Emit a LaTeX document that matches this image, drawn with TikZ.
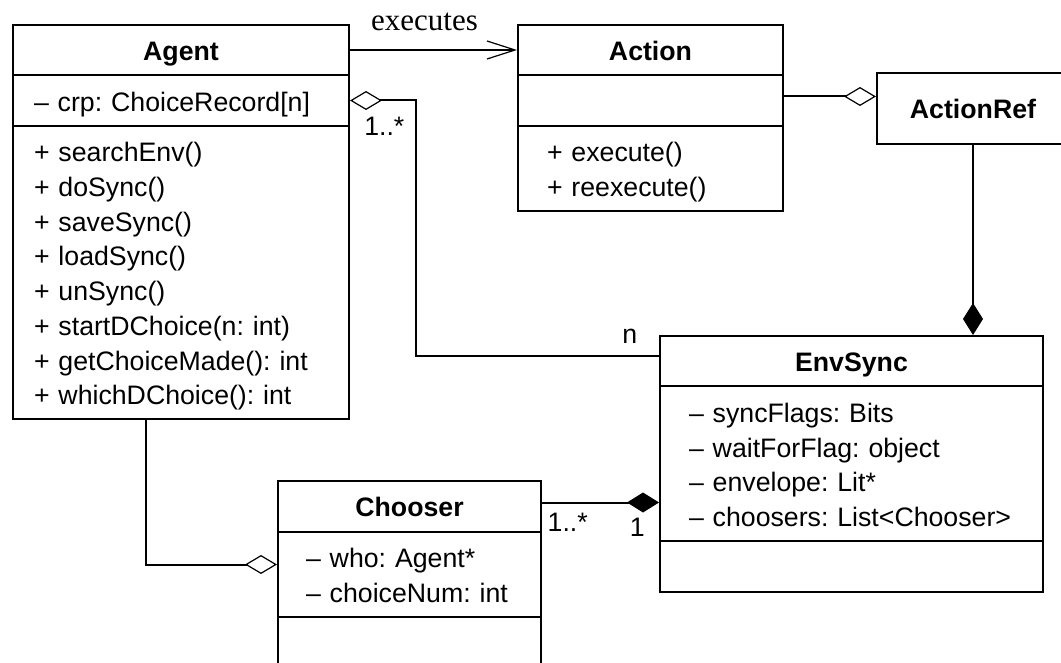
\documentclass[tikz,border=0pt]{standalone}
\usepackage{fontspec}
\setmainfont{Liberation Sans}
\newfontfamily\serifrm{Liberation Serif}
\usetikzlibrary{shapes.multipart, arrows.meta, positioning}

\newcommand\ustrut{\rule[-3.35pt]{0pt}{17.35pt}}
\newcommand\uhead[1]{\hbox to\hsize{\hss\ustrut\textbf{#1}\hss}}
\frenchspacing

\begin{document}
\begin{tikzpicture} [x=0.5pt, y=-0.5pt, line width=1pt,
        font=\fontsize{13.35}{17.35}\selectfont,
        umlclass/.style={draw, rectangle split, rectangle split parts=3,
            anchor=north west, align=left, inner ysep=3.45pt, inner xsep=14.5pt},
        aggr/.style={-{Diamond[open, length=16pt, width=9.5pt, line width=0.6pt]}},
        compo/.style={-{Diamond[length=16pt, width=10pt]}},
        mult/.style={inner sep=2pt}]
    \useasboundingbox (0,0) rectangle (1061,663);

    \node (agent) [umlclass, text width=147pt, inner xsep=10.5pt] at (12,24)
        {\uhead{Agent}
         \nodepart{two}\ustrut – crp: ChoiceRecord[n]
         \nodepart{three}\ustrut + searchEnv()\\ \ustrut + doSync()\\
            \ustrut + saveSync()\\ \ustrut + loadSync()\\ \ustrut + unSync()\\
            \ustrut + startDChoice(n: int)\\ \ustrut + getChoiceMade(): int\\
            \ustrut + whichDChoice(): int};
    \node (action) [right=83.5pt of agent.north east, umlclass, text width=103.5pt]
        {\uhead{Action}
         \nodepart{two}\ustrut
         \nodepart{three}\ustrut + execute()\\ \ustrut + reexecute()};
    \node (actref) [draw, anchor=north west, minimum width=96pt, minimum height=35.5pt]
        at (876,72) {\textbf{ActionRef}};
    \node (envsync) [umlclass, text width=162.5pt] at (659,335)
        {\uhead{EnvSync}
         \nodepart{two}\ustrut – syncFlags: Bits\\ \ustrut – waitForFlag: object\\
            \ustrut – envelope: Lit*\\ \ustrut – choosers: List<Chooser>
         \nodepart{three}\ustrut};
    \node (chooser) [umlclass, text width=103.5pt, inner xsep=14pt] at (277,480)
        {\uhead{Chooser}
         \nodepart{two}\ustrut – who: Agent*\\ \ustrut – choiceNum: int
         \nodepart{three}\ustrut};

    \coordinate (actin) at ([yshift=-10.5pt]action.text split east);
    \coordinate (crp) at ([yshift=-12.5pt]agent.text split east);
    \coordinate (envin) at ([yshift=15pt]envsync.text split west);
    \coordinate (who) at ([yshift=-16.5pt]chooser.text split west);
    \coordinate (chs) at ([yshift=14.5pt]chooser.text split east);

    \draw [-{Straight Barb[length=14pt, width=9pt, line width=0.6pt]}]
        ([yshift=12.75pt]agent.text split east) -- node [above=7pt, xshift=-4.5pt,
        inner sep=2pt, font=\serifrm\fontsize{15.5}{18}\selectfont] {executes}
        ([yshift=12.75pt]action.text split west);
    \draw [aggr] (actin) -- (actin -| actref.west);
    \draw [compo] (actref.south) -- (actref.south |- envsync.north);
    \draw [aggr] (envin) -- node [pos=0.12, above=4pt, mult] {n} ++(-243,0)
        |- node [pos=0.74, below=6pt, mult] {1..*} (crp);
    \draw [aggr] ([xshift=-17.5pt]agent.south) |- (who);
    \draw [compo] (chs) -- node [pos=0.22, below=3pt, mult] {1..*}
        node [pos=0.815, below=5.5pt, mult] {1} (chs -| envsync.west);
\end{tikzpicture}
\end{document}
